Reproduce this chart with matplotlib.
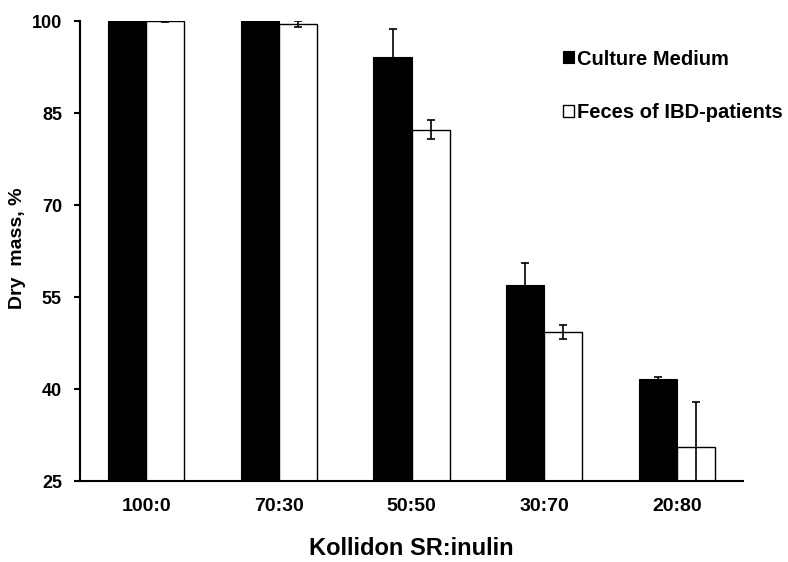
import matplotlib.pyplot as plt
import numpy as np

plt.rcParams['font.family'] = ['Liberation Sans', 'DejaVu Sans']

ratios = ['100:0', '70:30', '50:50', '30:70', '20:80']
culture_medium = [100.0, 100.0, 94.2, 56.9, 41.7]
culture_err = [0.15, 0.15, 4.5, 3.6, 0.3]
feces_ibd = [100.0, 99.5, 82.3, 49.3, 30.6]
feces_err = [0.2, 0.45, 1.6, 1.1, 7.3]

x = np.arange(len(ratios))
w = 0.287

fig = plt.figure(figsize=(7.88, 5.62), dpi=100)
ax = fig.add_axes([0.1015, 0.144, 0.8415, 0.8186])

err_kw = dict(ecolor='black', elinewidth=1.2, capsize=3, capthick=1.2)
ax.bar(x - w / 2, culture_medium, w, color='black', edgecolor='black', linewidth=0.8,
       yerr=culture_err, error_kw=err_kw, label='Culture Medium', zorder=2)
ax.bar(x + w / 2, feces_ibd, w, color='white', edgecolor='black', linewidth=1.0,
       yerr=feces_err, error_kw=err_kw, label='Feces of IBD-patients', zorder=2)

ax.set_xlim(-0.5, 4.5)
ax.set_ylim(25, 100)
ax.set_yticks([25, 40, 55, 70, 85, 100])
ax.set_xticks(x)
ax.set_xticklabels(ratios, fontsize=14, fontweight='bold')
for lbl in ax.get_yticklabels():
    lbl.set_fontsize(13)
    lbl.set_fontweight('bold')

ax.tick_params(axis='x', length=0, pad=12)
ax.tick_params(axis='y', direction='out', length=4, width=1.5, pad=9)

for s in ['top', 'right']:
    ax.spines[s].set_visible(False)
ax.spines['left'].set_linewidth(1.5)
ax.spines['bottom'].set_linewidth(1.5)

ax.set_ylabel('Dry  mass, %', fontsize=14, fontweight='bold')
ax.yaxis.set_label_coords(-0.082, 0.507)
ax.set_xlabel('Kollidon SR:inulin', fontsize=17, fontweight='bold', labelpad=16)

leg = ax.legend(loc='upper left', bbox_to_anchor=(0.7285, 0.938), frameon=False,
                prop={'size': 14.5, 'weight': 'bold'}, handlelength=0.55, handleheight=0.55,
                handletextpad=0.12, labelspacing=1.72, borderaxespad=0, borderpad=0)

fig.savefig('out.png', dpi=100)
